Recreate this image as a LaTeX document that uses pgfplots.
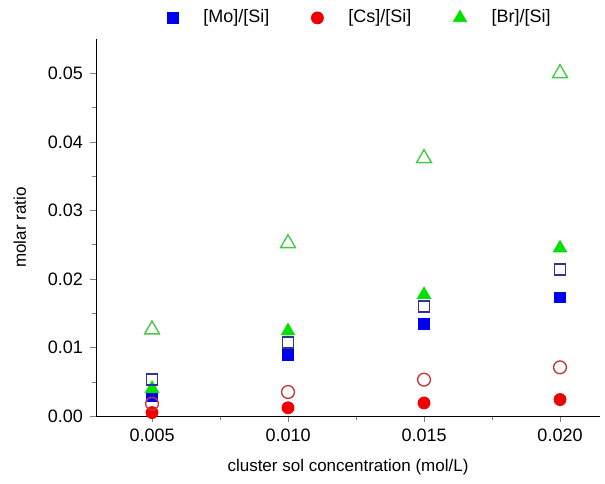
\documentclass[border=0pt]{standalone}
\usepackage{fontspec}
\setmainfont{Liberation Sans}
\usepackage{pgfplots}
\pgfplotsset{compat=1.18}

\definecolor{mofill}{RGB}{0,0,240}
\definecolor{csfill}{RGB}{240,0,0}
\definecolor{brfill}{RGB}{0,225,0}
\definecolor{moopen}{RGB}{50,50,150}
\definecolor{csopen}{RGB}{195,60,60}
\definecolor{bropen}{RGB}{70,200,70}

\begin{document}
\begin{tikzpicture}
  \begin{axis}[
      scale only axis,
      width=252pt, height=188.5pt,
      axis lines*=left,
      xmin=0.00294, xmax=0.02147,
      ymin=0, ymax=0.055,
      xtick={0.005,0.010,0.015,0.020},
      ytick={0,0.01,...,0.05},
      minor x tick num=1,
      minor y tick num=1,
      tick align=outside,
      major tick length=3pt,
      minor tick length=2pt,
      xticklabel style={/pgf/number format/.cd, fixed, fixed zerofill, precision=3},
      yticklabel style={/pgf/number format/.cd, fixed, fixed zerofill, precision=2},
      scaled ticks=false,
      /pgf/number format/assume math mode=true,
      tick label style={font=\fontsize{9}{10}\selectfont},
      label style={font=\fontsize{8.5}{10}\selectfont},
      xlabel={cluster sol concentration (mol/L)},
      ylabel={molar ratio},
      xlabel style={yshift=-2pt},
      ylabel style={yshift=4pt},
      legend columns=3,
      legend style={draw=none, at={(0.526,1.056)}, anchor=center,
        font=\fontsize{9}{10}\selectfont,
        /tikz/every odd column/.append style={column sep=10.5pt},
        /tikz/every even column/.append style={column sep=19pt}},
      legend cell align=left,
      clip=false,
    ]
    % filled markers
    \addplot[only marks, mark=square*, mark size=2.7pt, color=mofill]
      coordinates {(0.005,0.0029) (0.010,0.0089) (0.015,0.0134) (0.020,0.0173)};
    \addlegendentry{[Mo]/[Si]}
    \addplot[only marks, mark=*, mark size=3pt, color=csfill]
      coordinates {(0.005,0.0005) (0.010,0.0012) (0.015,0.0019) (0.020,0.0024)};
    \addlegendentry{[Cs]/[Si]}
    \addplot[only marks, mark=triangle*, mark size=3.8pt, color=brfill]
      coordinates {(0.005,0.0040) (0.010,0.0124) (0.015,0.0177) (0.020,0.0245)};
    \addlegendentry{[Br]/[Si]}
    % open markers
    \addplot[forget plot, only marks, mark=square, mark size=2.8pt, color=moopen, line width=0.8pt]
      coordinates {(0.005,0.0053) (0.010,0.0107) (0.015,0.0160) (0.020,0.0214)};
    \addplot[forget plot, only marks, mark=o, mark size=3.2pt, color=csopen, line width=0.7pt]
      coordinates {(0.005,0.0018) (0.010,0.0035) (0.015,0.0053) (0.020,0.0071)};
    \addplot[forget plot, only marks, mark=triangle, mark size=4.3pt, color=bropen, line width=0.7pt]
      coordinates {(0.005,0.0126) (0.010,0.0252) (0.015,0.0376) (0.020,0.0500)};
  \end{axis}
  \pgfresetboundingbox
  \path[use as bounding box] (-48pt,-33.5pt) rectangle (254.5pt,208pt);
\end{tikzpicture}
\end{document}
